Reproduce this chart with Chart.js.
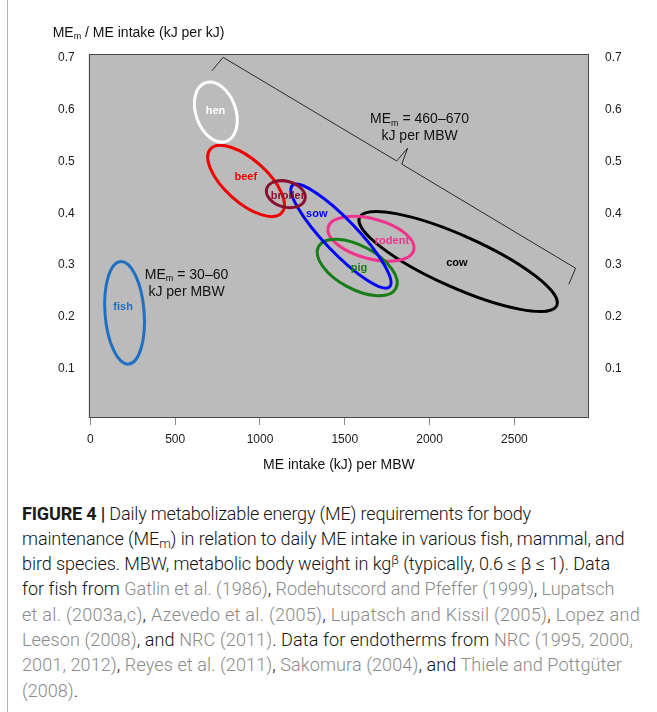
<!DOCTYPE html>
<html>
<head>
<meta charset="utf-8">
<script src="https://cdn.jsdelivr.net/npm/chart.js@4.4.1/dist/chart.umd.min.js"></script>
<style>
html,body{margin:0;padding:0;background:#fff;}
#wrap{position:relative;width:657px;height:712px;overflow:hidden;}
#frame{position:absolute;left:7px;top:0;width:1px;height:712px;background:#b5b5b5;}
#c{position:absolute;left:0;top:0;}
#cap{position:absolute;left:22px;top:500.5px;font-family:Roboto,"Open Sans",sans-serif;font-weight:300;font-size:17px;color:#141414;white-space:nowrap;}
#cap .row{display:block;height:25.3px;line-height:25.3px;}
#cap .ln{display:inline-block;}
#cap .r{color:#8a8a8a;}
#cap b{font-weight:700;color:#1a1a1a;}
#cap sub,#cap sup{font-size:0.72em;line-height:0;}
#cap sub{vertical-align:-0.2em;}
#cap sup{vertical-align:0.45em;}
</style>
</head>
<body>
<div id="wrap">
  <div id="frame"></div>
  <canvas id="c" width="657" height="480"></canvas>
  <div id="cap">
    <div class="row"><span class="ln" data-w="509"><b>FIGURE 4 |</b> Daily metabolizable energy (ME) requirements for body</span></div>
    <div class="row"><span class="ln" data-w="602">maintenance (ME<sub>m</sub>) in relation to daily ME intake in various fish, mammal, and</span></div>
    <div class="row"><span class="ln" data-w="588">bird species. MBW, metabolic body weight in kg<sup>β</sup> (typically, 0.6 ≤ β ≤ 1). Data</span></div>
    <div class="row"><span class="ln" data-w="592">for fish from <span class="r">Gatlin et al. (1986)</span>, <span class="r">Rodehutscord and Pfeffer (1999)</span>, <span class="r">Lupatsch</span></span></div>
    <div class="row"><span class="ln" data-w="618"><span class="r">et al. (2003a,c)</span>, <span class="r">Azevedo et al. (2005)</span>, <span class="r">Lupatsch and Kissil (2005)</span>, <span class="r">Lopez and</span></span></div>
    <div class="row"><span class="ln" data-w="611"><span class="r">Leeson (2008)</span>, and <span class="r">NRC (2011)</span>. Data for endotherms from <span class="r">NRC (1995, 2000,</span></span></div>
    <div class="row"><span class="ln" data-w="600"><span class="r">2001, 2012)</span>, <span class="r">Reyes et al. (2011)</span>, <span class="r">Sakomura (2004)</span>, and <span class="r">Thiele and Pottgüter</span></span></div>
    <div class="row"><span class="ln"><span class="r">(2008)</span>.</span></div>
  </div>
</div>
<script>
// ---------- data ----------
const species      = ['cow', 'rodent', 'pig', 'sow', 'beef', 'broiler', 'hen', 'fish'];
// ends of each ellipse's long axis (ME intake kJ per MBW, MEm / ME intake)
const majorStartX  = [1587, 1402, 1345, 1191, 708, 1039, 678, 178];
const majorStartY  = [0.392, 0.373, 0.336, 0.454, 0.524, 0.447, 0.652, 0.307];
const majorEndX    = [2750, 1907, 1801, 1764, 1128, 1265, 801, 225];
const majorEndY    = [0.222, 0.329, 0.255, 0.258, 0.401, 0.427, 0.539, 0.109];
const widthRatio   = [0.24, 0.45, 0.49, 0.235, 0.445, 0.65, 0.64, 0.38];
const labelX       = [2161, 1778, 1584, 1335, 916, 1164, 738, 193];
const labelY       = [0.305, 0.347, 0.294, 0.399, 0.470, 0.433, 0.598, 0.220];
const speciesColor = ['#000000', '#f0338c', '#177d17', '#0000ff', '#f00000', '#8a1030', '#ffffff', '#1f6fc5'];

const xTicks = [0, 500, 1000, 1500, 2000, 2500];
const yTicks = [0.1, 0.2, 0.3, 0.4, 0.5, 0.6, 0.7];

// brace for endotherms
const braceX = [716, 783, 1806, 1871, 1836, 2861, 2821];
const braceY = [0.675, 0.701, 0.501, 0.526, 0.495, 0.294, 0.263];

// annotations: [prefix, subscript, rest], second line
const noteEndo = { x: 1941, y1: 0.581, y2: 0.549, l1: ['ME', 'm', ' = 460–670'], l2: 'kJ per MBW' };
const noteFish = { x: 567, y1: 0.281, y2: 0.247, l1: ['ME', 'm', ' = 30–60'], l2: 'kJ per MBW' };

const FONT = '"Liberation Sans", Arial, sans-serif';

function richText(ctx, parts, cx, cy, size, color) {
  ctx.save();
  ctx.fillStyle = color;
  ctx.textBaseline = 'middle';
  ctx.textAlign = 'left';
  const big = size + 'px ' + FONT, small = Math.round(size * 0.64) + 'px ' + FONT;
  ctx.font = big; const w0 = ctx.measureText(parts[0]).width, w2 = ctx.measureText(parts[2]).width;
  ctx.font = small; const w1 = ctx.measureText(parts[1]).width;
  let x = cx - (w0 + w1 + w2) / 2;
  ctx.font = big; ctx.fillText(parts[0], x, cy); x += w0;
  ctx.font = small; ctx.fillText(parts[1], x, cy + size * 0.28); x += w1;
  ctx.font = big; ctx.fillText(parts[2], x, cy);
  ctx.restore();
}

const overlay = {
  id: 'overlay',
  beforeDatasetsDraw(chart) {
    const { ctx, chartArea: a } = chart;
    ctx.save();
    ctx.fillStyle = '#bbbbbb';
    ctx.fillRect(a.left, a.top, a.right - a.left, a.bottom - a.top);
    ctx.restore();
  },
  afterDatasetsDraw(chart) {
    const { ctx, chartArea: a } = chart;
    const xs = chart.scales.x, ys = chart.scales.y;
    const X = v => xs.getPixelForValue(v), Y = v => ys.getPixelForValue(v);
    ctx.save();
    ctx.beginPath(); ctx.rect(a.left, a.top, a.right - a.left, a.bottom - a.top); ctx.clip();

    // ellipses
    species.forEach((s, i) => {
      const x1 = X(majorStartX[i]), y1 = Y(majorStartY[i]);
      const x2 = X(majorEndX[i]), y2 = Y(majorEndY[i]);
      const cx = (x1 + x2) / 2, cy = (y1 + y2) / 2;
      const ra = Math.hypot(x2 - x1, y2 - y1) / 2;
      const ang = Math.atan2(y2 - y1, x2 - x1);
      ctx.beginPath();
      ctx.ellipse(cx, cy, ra, ra * widthRatio[i], ang, 0, Math.PI * 2);
      ctx.strokeStyle = speciesColor[i];
      ctx.lineWidth = 3;
      ctx.stroke();
    });

    // brace
    ctx.beginPath();
    braceX.forEach((v, i) => { const px = X(v), py = Y(braceY[i]); i ? ctx.lineTo(px, py) : ctx.moveTo(px, py); });
    ctx.strokeStyle = '#2a2a2a'; ctx.lineWidth = 1; ctx.stroke();

    // species labels
    ctx.font = 'bold 11px ' + FONT;
    ctx.textAlign = 'center'; ctx.textBaseline = 'middle';
    species.forEach((s, i) => {
      ctx.fillStyle = speciesColor[i];
      ctx.fillText(s, X(labelX[i]), Y(labelY[i]));
    });

    // annotations
    [noteEndo, noteFish].forEach(n => {
      richText(ctx, n.l1, X(n.x), Y(n.y1), 14, '#111');
      ctx.font = '14px ' + FONT; ctx.fillStyle = '#111';
      ctx.textAlign = 'center'; ctx.textBaseline = 'middle';
      ctx.fillText(n.l2, X(n.x), Y(n.y2));
    });
    ctx.restore();

    // plot border
    ctx.save();
    ctx.strokeStyle = '#4a4a4a'; ctx.lineWidth = 1;
    ctx.strokeRect(Math.round(a.left) + 0.5, Math.round(a.top) + 0.5, Math.round(a.right - a.left) - 1, Math.round(a.bottom - a.top) - 1);
    ctx.restore();

    // y-axis title
    ctx.save();
    ctx.font = '14px ' + FONT;
    const tx = a.left - 36, ty = a.top - 21;
    ctx.fillStyle = '#111'; ctx.textBaseline = 'middle'; ctx.textAlign = 'left';
    const pre = 'ME', sub = 'm', rest = ' / ME intake (kJ per kJ)';
    ctx.fillText(pre, tx, ty);
    let w = ctx.measureText(pre).width;
    ctx.font = '9px ' + FONT; ctx.fillText(sub, tx + w, ty + 4);
    w += ctx.measureText(sub).width;
    ctx.font = '14px ' + FONT; ctx.fillText(rest, tx + w, ty);
    ctx.restore();
  }
};

const tickFont = { family: FONT, size: 12 };
const setTicks = arr => scale => { scale.ticks = arr.map(v => ({ value: v })); };
const fmt = v => String(v);

new Chart(document.getElementById('c'), {
  type: 'scatter',
  data: {
    datasets: [{
      data: species.map((s, i) => ({ x: (majorStartX[i] + majorEndX[i]) / 2, y: (majorStartY[i] + majorEndY[i]) / 2 })),
      pointRadius: 0, showLine: false
    }]
  },
  options: {
    responsive: false, animation: false, devicePixelRatio: 1,
    layout: { padding: { top: 54, left: 0, right: 0, bottom: 0 } },
    plugins: { legend: { display: false }, tooltip: { enabled: false } },
    scales: {
      x: {
        type: 'linear', min: -10, max: 2940,
        afterBuildTicks: setTicks(xTicks),
        afterFit: s => { s.height = 62; },
        grid: { drawOnChartArea: false, drawTicks: true, tickLength: 7, color: '#8a8a8a' },
        border: { display: false },
        ticks: { font: tickFont, color: '#1a1a1a', padding: 7, maxRotation: 0, callback: fmt },
        title: { display: true, text: 'ME intake (kJ) per MBW', color: '#111', font: { family: FONT, size: 14 }, padding: { top: 0, bottom: 6.6 } }
      },
      y: {
        type: 'linear', position: 'left', min: 0.005, max: 0.7075,
        afterBuildTicks: setTicks(yTicks),
        afterFit: s => { s.width = 88.7; },
        grid: { display: false }, border: { display: false },
        ticks: { font: tickFont, color: '#1a1a1a', padding: 6, callback: fmt }
      },
      y2: {
        type: 'linear', position: 'right', min: 0.005, max: 0.7075,
        afterBuildTicks: setTicks(yTicks),
        afterFit: s => { s.width = 68; },
        grid: { display: false }, border: { display: false },
        ticks: { font: tickFont, color: '#1a1a1a', padding: 8, callback: fmt }
      }
    }
  },
  plugins: [overlay]
});

// fit caption lines to the reference line lengths
(function fitCaption() {
  const cap = document.getElementById('cap');
  const lines = Array.from(cap.querySelectorAll('.ln[data-w]'));
  let W = 0, T = 0;
  lines.forEach(l => { W += l.getBoundingClientRect().width; T += +l.dataset.w; });
  if (W > 0) cap.style.fontSize = (17 * T / W).toFixed(2) + 'px';
  lines.forEach(l => {
    const w = l.getBoundingClientRect().width;
    const n = l.textContent.length;
    l.style.letterSpacing = ((+l.dataset.w - w) / n).toFixed(3) + 'px';
  });
})();
</script>
</body>
</html>
